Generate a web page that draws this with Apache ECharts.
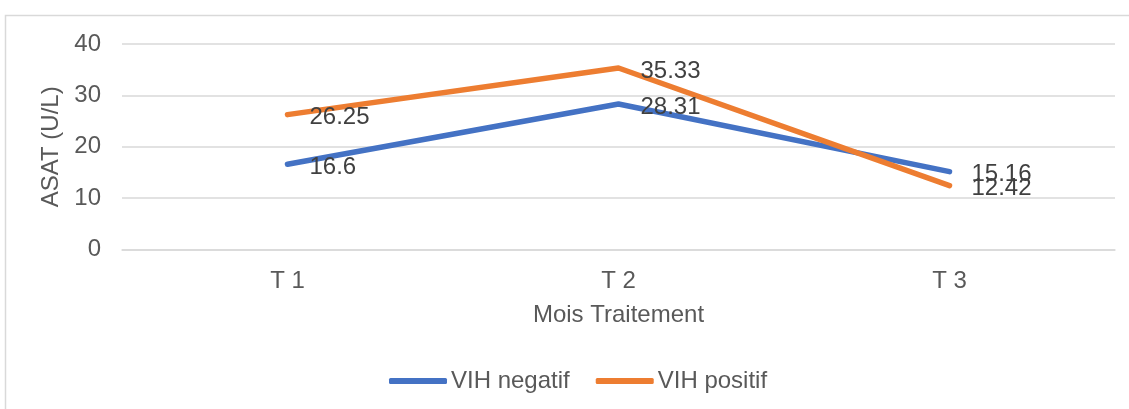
<!DOCTYPE html>
<html>
<head>
<meta charset="utf-8">
<script src="https://cdn.jsdelivr.net/npm/echarts@6/dist/echarts.min.js"></script>
<style>
  html, body { margin: 0; padding: 0; background: #fff; }
  #chart { width: 1129px; height: 409px; }
</style>
</head>
<body>
<div id="chart"></div>
<script>
// ASAT levels by treatment month, by HIV status
const categories = ['T 1', 'T 2', 'T 3'];
const vihNegatif = [16.6, 28.31, 15.16];
const vihPositif = [26.25, 35.33, 12.42];
const yTicks = { min: 0, max: 40, interval: 10 };

const FONT = '"Liberation Sans", Arial, sans-serif';
const TEXT = '#595959';
const SIZE = 24;

const chart = echarts.init(document.getElementById('chart'), null, { renderer: 'canvas' });

function lineSeries(name, data, color) {
  return {
    name: name,
    type: 'line',
    data: data,
    // tiny symbols hidden under the stroke so the value labels get drawn
    symbol: 'circle',
    symbolSize: 2,
    showSymbol: true,
    lineStyle: { color: color, width: 5.5, cap: 'round', join: 'round' },
    itemStyle: { color: color },
    label: {
      show: true,
      position: 'right',
      distance: 21,
      offset: [0, 3],
      color: '#404040',
      fontFamily: FONT,
      fontSize: SIZE
    },
    emphasis: { disabled: true }
  };
}

chart.setOption({
  animation: false,
  backgroundColor: '#ffffff',
  graphic: [{
    type: 'rect',
    shape: { x: 5.5, y: 15.5, width: 1140, height: 420 },
    style: { fill: 'none', stroke: '#d9d9d9', lineWidth: 1.5 },
    silent: true,
    z: -1
  }],
  grid: { left: 122, right: 14, top: 44, bottom: 159.5 },
  legend: {
    left: 384,
    top: 364,
    icon: 'roundRect',
    itemWidth: 58,
    itemHeight: 6,
    itemGap: 26,
    textStyle: { color: TEXT, fontFamily: FONT, fontSize: SIZE, padding: [0, 0, 0, -1] },
    data: ['VIH negatif', 'VIH positif']
  },
  xAxis: {
    type: 'category',
    data: categories,
    boundaryGap: true,
    name: 'Mois Traitement',
    nameLocation: 'middle',
    nameGap: 54,
    nameTextStyle: { color: TEXT, fontFamily: FONT, fontSize: SIZE },
    axisLine: { show: true, lineStyle: { color: '#d9d9d9', width: 1.5 } },
    axisTick: { show: false },
    axisLabel: { color: TEXT, fontFamily: FONT, fontSize: SIZE, margin: 20 }
  },
  yAxis: {
    type: 'value',
    min: yTicks.min,
    max: yTicks.max,
    interval: yTicks.interval,
    name: 'ASAT (U/L)',
    nameLocation: 'middle',
    nameGap: 54,
    nameRotate: 90,
    nameTextStyle: { color: TEXT, fontFamily: FONT, fontSize: SIZE },
    axisLine: { show: false },
    axisTick: { show: false },
    splitLine: { lineStyle: { color: '#d9d9d9', width: 1.5 } },
    axisLabel: { color: TEXT, fontFamily: FONT, fontSize: SIZE, margin: 21 }
  },
  series: [
    lineSeries('VIH negatif', vihNegatif, '#4472C4'),
    lineSeries('VIH positif', vihPositif, '#ED7D31')
  ]
});
</script>
</body>
</html>
